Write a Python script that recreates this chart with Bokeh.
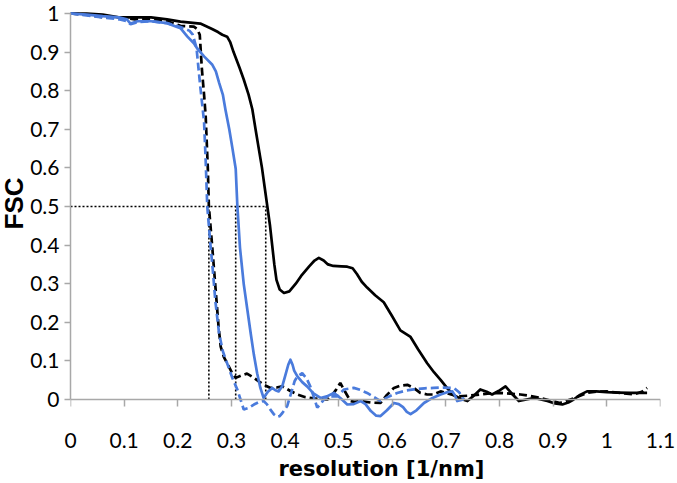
import math
from bokeh.plotting import figure
from bokeh.models import FixedTicker, Range1d, LinearAxis, Title
from bokeh.embed import file_html
from bokeh.resources import INLINE

# ---------------- data ----------------
black_solid_x = [0.0, 0.03, 0.06, 0.09, 0.12, 0.15, 0.18, 0.205, 0.242, 0.264, 0.275, 0.283, 0.292,
                 0.298, 0.304, 0.315, 0.323, 0.332, 0.339, 0.345, 0.351, 0.357, 0.362, 0.367,
                 0.372, 0.376, 0.380, 0.384, 0.390, 0.398, 0.408, 0.42, 0.43, 0.445, 0.455,
                 0.463, 0.472, 0.48, 0.49, 0.505, 0.516, 0.526, 0.534, 0.543, 0.553, 0.568,
                 0.584, 0.60, 0.615, 0.634, 0.648, 0.665, 0.678, 0.69, 0.703, 0.714, 0.727,
                 0.74, 0.752, 0.764, 0.776, 0.786, 0.798, 0.811, 0.823, 0.836, 0.85, 0.864,
                 0.877, 0.889, 0.903, 0.917, 0.928, 0.938, 0.95, 0.963, 0.98, 1.0, 1.02,
                 1.044, 1.06, 1.075]
black_solid_y = [1.0, 1.0, 0.997, 0.99, 0.99, 0.99, 0.985, 0.979, 0.974, 0.96, 0.952, 0.945, 0.94,
                 0.925, 0.9, 0.86, 0.829, 0.79, 0.752, 0.70, 0.65, 0.60, 0.55, 0.50,
                 0.45, 0.40, 0.35, 0.31, 0.285, 0.276, 0.28, 0.30, 0.32, 0.345, 0.36,
                 0.367, 0.36, 0.35, 0.346, 0.345, 0.344, 0.34, 0.325, 0.305, 0.29, 0.27,
                 0.252, 0.215, 0.179, 0.162, 0.13, 0.094, 0.07, 0.051, 0.028, 0.012, 0.002,
                 -0.004, 0.01, 0.026, 0.02, 0.013, 0.022, 0.034, 0.015, -0.004, 0.0, 0.004,
                 0.0, -0.004, -0.01, -0.013, -0.008, 0.0, 0.012, 0.021, 0.021, 0.019, 0.018,
                 0.017, 0.017, 0.017]

black_dashed_x = [0.0, 0.03, 0.06, 0.09, 0.12, 0.15, 0.18, 0.205, 0.23, 0.236, 0.241, 0.245,
                  0.249, 0.252, 0.256, 0.258, 0.264, 0.268, 0.272, 0.276, 0.28, 0.286, 0.292,
                  0.3, 0.308, 0.318, 0.329, 0.34, 0.351, 0.362, 0.373, 0.384, 0.395, 0.41,
                  0.423, 0.438, 0.454, 0.466, 0.479, 0.488, 0.495, 0.503, 0.512, 0.522, 0.53,
                  0.541, 0.56, 0.578, 0.59, 0.603, 0.615, 0.628, 0.64, 0.652, 0.665, 0.677,
                  0.69, 0.705, 0.721, 0.742, 0.764, 0.782, 0.80, 0.82, 0.839, 0.858, 0.876,
                  0.895, 0.913, 0.94, 0.963, 0.98, 1.0, 1.025, 1.05, 1.065, 1.075]
black_dashed_y = [1.0, 0.997, 0.99, 0.99, 0.985, 0.985, 0.98, 0.968, 0.966, 0.96, 0.945, 0.855,
                  0.79, 0.735, 0.60, 0.50, 0.40, 0.33, 0.26, 0.19, 0.137, 0.11, 0.094,
                  0.072, 0.056, 0.062, 0.067, 0.058, 0.047, 0.037, 0.03, 0.031, 0.034, 0.022,
                  0.013, 0.006, 0.003, 0.001, 0.0, 0.012, 0.025, 0.043, 0.02, -0.004, -0.006,
                  -0.004, -0.008, -0.009, 0.012, 0.03, 0.036, 0.038, 0.03, 0.017, 0.013, 0.013,
                  0.021, 0.015, 0.008, 0.01, 0.013, 0.016, 0.017, 0.015, 0.013, 0.009, 0.004,
                  -0.003, -0.009, 0.004, 0.017, 0.02, 0.021, 0.017, 0.013, 0.02, 0.03]

blue_solid_x = [0.0, 0.03, 0.06, 0.09, 0.105, 0.112, 0.125, 0.15, 0.18, 0.205, 0.218, 0.23,
                0.236, 0.249, 0.264, 0.271, 0.277, 0.284, 0.289, 0.296, 0.302, 0.308, 0.311,
                0.316, 0.323, 0.33, 0.336, 0.342, 0.348, 0.354, 0.36, 0.368, 0.376, 0.382,
                0.388, 0.395, 0.40, 0.406, 0.41, 0.414, 0.417, 0.423, 0.432, 0.441, 0.453,
                0.466, 0.478, 0.491, 0.503, 0.516, 0.528, 0.541, 0.55, 0.56, 0.57, 0.578,
                0.59, 0.603, 0.612, 0.62, 0.627, 0.634, 0.645, 0.659, 0.675, 0.69, 0.702,
                0.712, 0.717, 0.721, 0.733]
blue_solid_y = [1.0, 0.997, 0.993, 0.99, 0.985, 0.974, 0.98, 0.98, 0.975, 0.962, 0.94, 0.923,
                0.91, 0.889, 0.868, 0.85, 0.821, 0.79, 0.75, 0.70, 0.65, 0.598, 0.504,
                0.393, 0.299, 0.23, 0.171, 0.115, 0.068, 0.03, 0.004, 0.02, 0.03, 0.024,
                0.021, 0.035, 0.06, 0.09, 0.103, 0.09, 0.075, 0.06, 0.045, 0.034, 0.016,
                0.004, 0.008, 0.017, 0.004, -0.013, -0.012, -0.004, -0.012, -0.03, -0.042, -0.043,
                -0.028, -0.009, -0.012, -0.02, -0.032, -0.038, -0.028, -0.009, 0.004, 0.013, 0.019,
                0.021, 0.01, -0.004, 0.0]

blue_dashed_x = [0.0, 0.03, 0.06, 0.09, 0.105, 0.112, 0.125, 0.15, 0.18, 0.205, 0.222, 0.228,
                 0.235, 0.242, 0.249, 0.252, 0.255, 0.261, 0.265, 0.27, 0.277, 0.284, 0.292,
                 0.302, 0.311, 0.317, 0.323, 0.332, 0.342, 0.352, 0.36, 0.366, 0.372, 0.379,
                 0.385, 0.39, 0.395, 0.404, 0.412, 0.418, 0.423, 0.432, 0.44, 0.447, 0.454,
                 0.46, 0.467, 0.475, 0.486, 0.497, 0.51, 0.528, 0.54, 0.553, 0.566, 0.578,
                 0.594, 0.609, 0.625, 0.64, 0.66, 0.677, 0.695, 0.715, 0.725, 0.733]
blue_dashed_y = [1.0, 0.995, 0.99, 0.985, 0.98, 0.972, 0.978, 0.98, 0.975, 0.965, 0.955, 0.945,
                 0.91, 0.81, 0.72, 0.62, 0.50, 0.40, 0.34, 0.256, 0.171, 0.125, 0.094,
                 0.055, 0.026, 0.0, -0.026, -0.022, -0.013, -0.006, -0.004, -0.012, -0.025, -0.038,
                 -0.045, -0.043, -0.035, -0.017, 0.02, 0.048, 0.06, 0.068, 0.055, 0.034, 0.005,
                 -0.021, -0.01, 0.004, 0.008, 0.008, 0.026, 0.03, 0.025, 0.017, 0.006, -0.004,
                 0.008, 0.017, 0.023, 0.026, 0.029, 0.03, 0.031, 0.03, 0.018, 0.0]

fsc_threshold = 0.5
threshold_crossings = [0.258, 0.308, 0.364]

x_ticks = [0, 0.1, 0.2, 0.3, 0.4, 0.5, 0.6, 0.7, 0.8, 0.9, 1.0, 1.1]
x_tick_labels = ["0", "0.1", "0.2", "0.3", "0.4", "0.5", "0.6", "0.7", "0.8", "0.9", "1", "1.1"]
y_ticks = [0, 0.1, 0.2, 0.3, 0.4, 0.5, 0.6, 0.7, 0.8, 0.9, 1.0]
y_tick_labels = ["0", "0.1", "0.2", "0.3", "0.4", "0.5", "0.6", "0.7", "0.8", "0.9", "1"]

x_title = "resolution [1/nm]"
y_title = "FSC"

# ---------------- figure ----------------
BLUE = "#4a7bdc"
AXIS_GREY = "#a8a8a8"
TICK_FONT = "Lato"

p = figure(width=677, height=483, output_backend="svg", toolbar_location=None,
           x_range=Range1d(0, 1.1), y_range=Range1d(-0.0596, 1.0337),
           min_border_left=70, min_border_right=17, min_border_top=0, min_border_bottom=61)
p.grid.visible = False
p.outline_line_color = None
p.background_fill_color = "white"
p.border_fill_color = "white"

# dotted threshold guides
p.line(x=[0, max(threshold_crossings)], y=[fsc_threshold, fsc_threshold],
       line_color="black", line_width=1.6, line_dash="2 2")
p.segment(x0=threshold_crossings, y0=[0] * len(threshold_crossings),
          x1=threshold_crossings, y1=[fsc_threshold] * len(threshold_crossings),
          line_color="black", line_width=1.6, line_dash="2 2")

p.line(black_solid_x, black_solid_y, line_color="black", line_width=2.7, line_join="round")
p.line(black_dashed_x, black_dashed_y, line_color="black", line_width=2.7, line_dash="8 4")
p.line(blue_solid_x, blue_solid_y, line_color=BLUE, line_width=2.7, line_join="round")
p.line(blue_dashed_x, blue_dashed_y, line_color=BLUE, line_width=2.7, line_dash="8 4")

# ---- x axis: labels at the frame bottom (no line / ticks)
xlab = p.xaxis[0]
xlab.ticker = FixedTicker(ticks=x_ticks)
xlab.major_label_overrides = dict(zip(x_ticks, x_tick_labels))
xlab.axis_line_color = None
xlab.major_tick_line_color = None
xlab.minor_tick_line_color = None
xlab.major_tick_out = 0
xlab.major_tick_in = 0
xlab.major_label_standoff = 10
xlab.major_label_text_font = TICK_FONT
xlab.major_label_text_font_size = "21px"
xlab.major_label_text_color = "black"

# ---- invisible spacer between tick labels and the axis title
spacer = LinearAxis(ticker=FixedTicker(ticks=x_ticks))
spacer.axis_line_color = None
spacer.major_tick_line_color = None
spacer.minor_tick_line_color = None
spacer.major_tick_out = 4
spacer.major_tick_in = 0
spacer.minor_tick_out = 0
spacer.major_label_text_color = None
p.add_layout(spacer, "below")

p.add_layout(Title(text=x_title, align="left", offset=208, standoff=0,
                   text_font="DejaVu Sans", text_font_style="bold",
                   text_font_size="21px", text_color="black"), "below")

# ---- x axis line and ticks drawn at y = 0
xline = LinearAxis(ticker=FixedTicker(ticks=x_ticks), fixed_location=0,
                   bounds=(x_ticks[0], x_ticks[-1]))
xline.axis_line_color = AXIS_GREY
xline.axis_line_width = 1.5
xline.major_tick_line_color = AXIS_GREY
xline.major_tick_line_width = 1.5
xline.major_tick_out = 0
xline.major_tick_in = -7
xline.minor_tick_line_color = None
xline.major_label_standoff = 0
xline.major_label_text_font_size = "0px"
xline.major_label_text_alpha = 0
p.add_layout(xline, "below")

# ---- y axis
ya = p.yaxis[0]
ya.ticker = FixedTicker(ticks=y_ticks)
ya.major_label_overrides = dict(zip(y_ticks, y_tick_labels))
ya.bounds = (y_ticks[0], y_ticks[-1])
ya.axis_line_color = AXIS_GREY
ya.axis_line_width = 1.5
ya.major_tick_line_color = AXIS_GREY
ya.major_tick_line_width = 1.5
ya.major_tick_out = 6
ya.major_tick_in = 0
ya.minor_tick_line_color = None
ya.major_label_standoff = 5
ya.major_label_text_font = TICK_FONT
ya.major_label_text_font_size = "21px"
ya.major_label_text_color = "black"

p.add_layout(Title(text=y_title, align="right", offset=177, standoff=-6,
                   vertical_align="top",
                   text_font="Liberation Sans", text_font_style="bold",
                   text_font_size="26px", text_color="black"), "left")

open("out.html", "w").write(file_html(p, INLINE))
